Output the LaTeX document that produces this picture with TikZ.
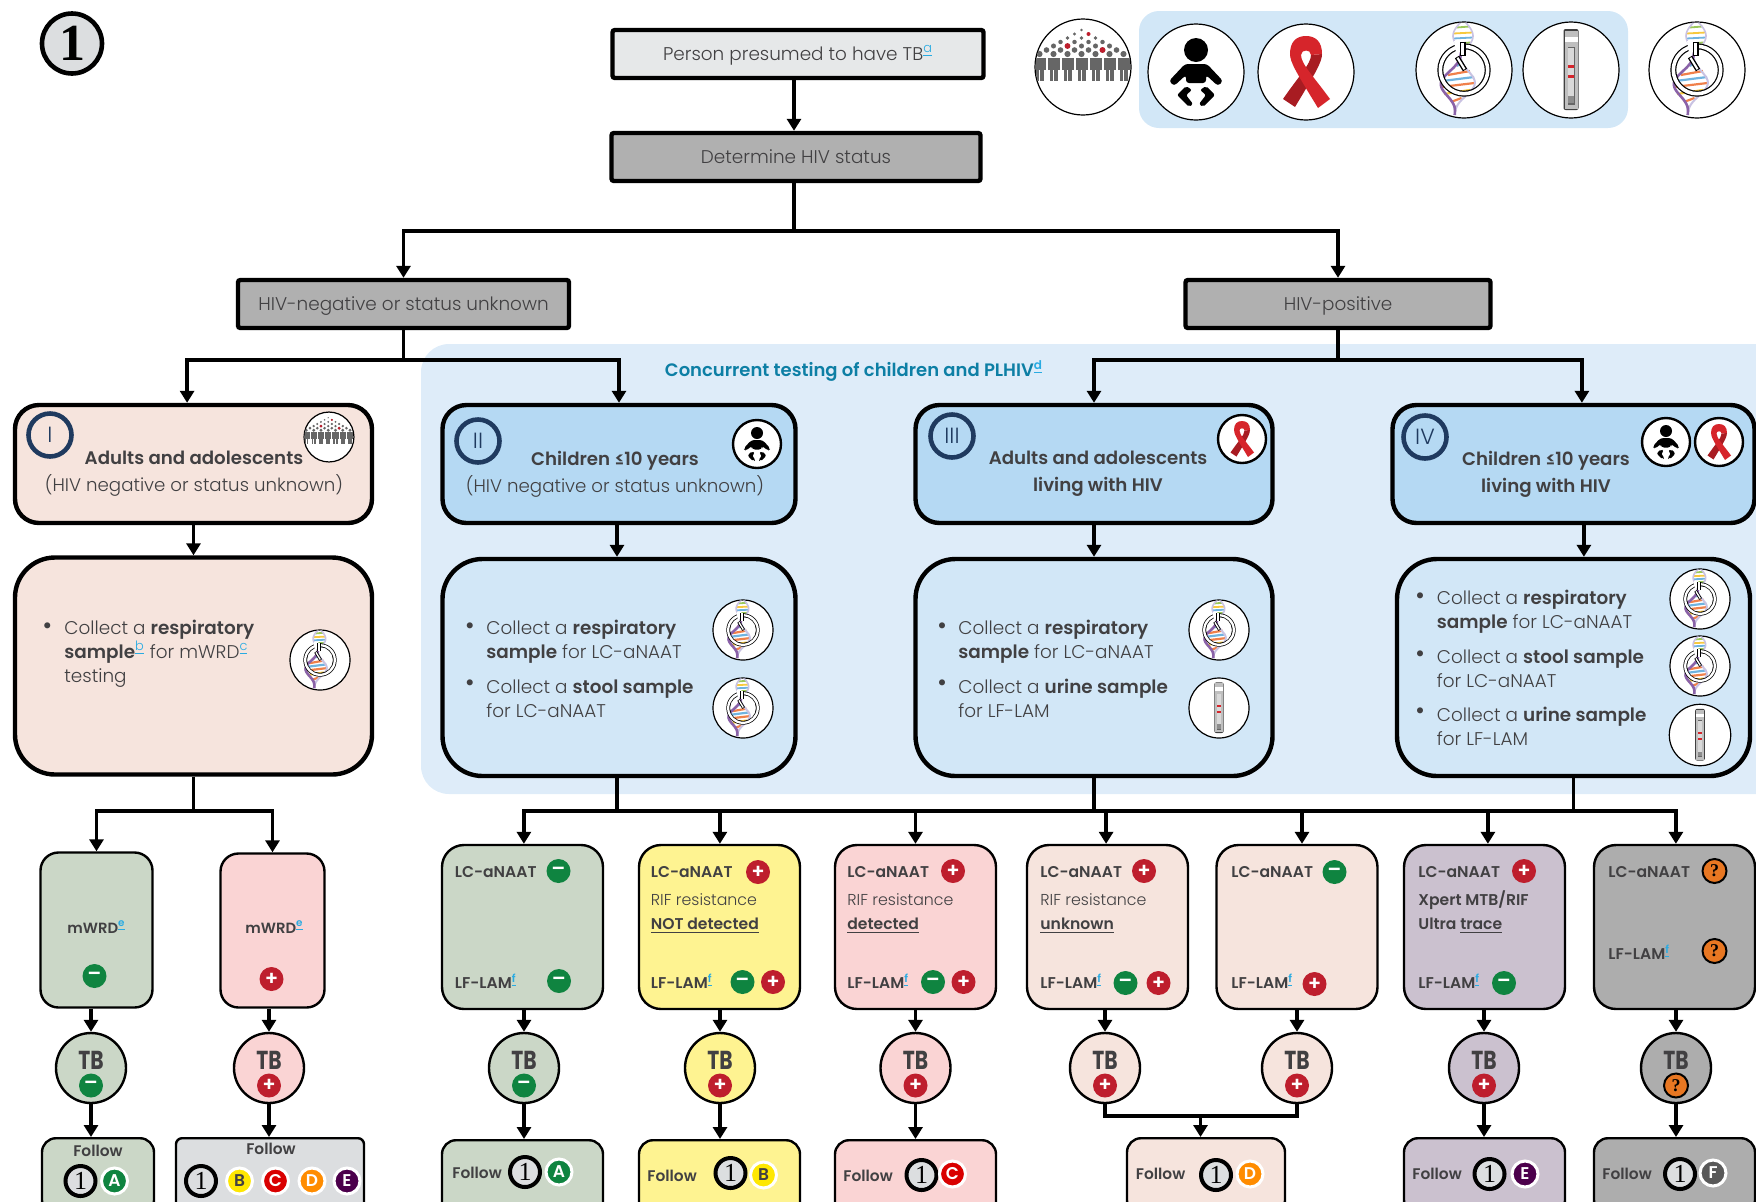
\documentclass[tikz,border=0pt]{standalone}
\usepackage{fontspec}
\setmainfont{Poppins}[UprightFont={* Light},BoldFont={* SemiBold}]
\newfontfamily\numfont{Liberation Serif}
\newfontfamily\tbfont{Poppins}[UprightFont={* Bold}]
\usetikzlibrary{arrows.meta, positioning}

\definecolor{inkgray}{HTML}{414042}
\definecolor{fncyan}{HTML}{29ABE2}
\definecolor{panelblue}{HTML}{DEECF9}
\definecolor{legendblue}{HTML}{D2E7F7}
\definecolor{classblue}{HTML}{B5D9F3}
\definecolor{peach}{HTML}{F6E4DD}
\definecolor{resgreen}{HTML}{CBD7C7}
\definecolor{respink}{HTML}{FAD4D4}
\definecolor{resyellow}{HTML}{FEF391}
\definecolor{respurple}{HTML}{CBC1CF}
\definecolor{resgray}{HTML}{ADADAD}
\definecolor{boxgray}{HTML}{B0B0B0}
\definecolor{softgray}{HTML}{DCDEE0}
\definecolor{okgreen}{HTML}{0F8440}
\definecolor{badred}{HTML}{BE1E2D}
\definecolor{askorange}{HTML}{E87722}
\definecolor{navy}{HTML}{1F3A5F}
\definecolor{ribbonred}{HTML}{D6252B}
\definecolor{ribbondark}{HTML}{A81C22}
\definecolor{concurrentteal}{HTML}{0D7FA5}
\definecolor{helixdark}{HTML}{8A62A8}
\definecolor{helixpale}{HTML}{C9C2E2}
\definecolor{rungyellow}{HTML}{F7C93E}
\definecolor{rungorange}{HTML}{F0804A}
\definecolor{runggreen}{HTML}{9CC85A}
\definecolor{rungblue}{HTML}{6FB3E0}

\newcommand{\fnmark}[1]{\textsuperscript{\textcolor{fncyan}{\underline{#1}}}}

\tikzset{
    iconring/.style={draw=black, line width=.6pt, fill=white},
    pics/crowdicon/.style={code={
        \draw[iconring] (0,0) circle [radius=48];
        \begin{scope}
            \clip (0,0) circle [radius=47.5];
            \foreach \m in {0,...,6}
                \foreach \i in {0,...,\m}
                    \fill[black!60] ({(2*\i-\m)*7-1.5},{-37+4*\m}) circle [radius={1.4+.28*\m}];
            \foreach \i in {-3,...,3} {
                \fill[black!60] ({\i*14-7.5},-9) rectangle ({\i*14+4.5},3);
                \fill[black!60] ({\i*14-5.5},3) rectangle ({\i*14-2},14);
                \fill[black!60] ({\i*14-1},3) rectangle ({\i*14+2.5},14);
            }
            \fill[badred] (-15.5,-21) circle [radius=2.9];
            \fill[badred] (5.5,-33) circle [radius=2];
            \fill[badred] (19.5,-17) circle [radius=2.9];
        \end{scope}
    }},
    pics/babyicon/.style={code={
        \draw[iconring] (0,0) circle [radius=48];
        \fill[black] (0,-22) ellipse [x radius=12, y radius=12];
        \fill[black, rounded corners=1.5pt] (-11,-8) -- (11,-8) -- (27,9) -- (22,14) -- (10,3) -- (10,11) -- (-10,11) -- (-10,3) -- (-22,14) -- (-27,9) -- cycle;
        \fill[black, rounded corners=1pt] (-10,14) -- (-19,23) -- (-7,35) -- (-3,32) -- (-10,23) -- (-4,18) -- cycle;
        \fill[black, rounded corners=1pt] (10,14) -- (19,23) -- (7,35) -- (3,32) -- (10,23) -- (4,18) -- cycle;
    }},
    pics/ribbonicon/.style={code={
        \draw[iconring] (0,0) circle [radius=48];
        \fill[ribbondark] (16,-18) .. controls (16,-10) and (10,0) .. (-11,35) -- (-23,27) .. controls (-8,5) and (5,-8) .. (5,-17) -- cycle;
        \fill[ribbonred] (-16,-18) .. controls (-16,-10) and (-10,0) .. (12,36) -- (24,27) .. controls (8,5) and (-5,-8) .. (-5,-17) .. controls (-5,-23) and (5,-23) .. (5,-17) -- (16,-18) .. controls (16,-30) and (10,-36) .. (0,-36) .. controls (-10,-36) and (-16,-30) .. (-16,-18) -- cycle;
    }},
    pics/dnaicon/.style={code={
        \draw[iconring] (0,0) circle [radius=48];
        \begin{scope}
            \clip (0,0) circle [radius=47.5];
            % upper, narrow turn of the helix
            \foreach \r/\c in {-43/runggreen,-37/rungyellow,-32/rungblue,-27/runggreen,-22/rungorange}
                \draw[line width=.9pt, \c] ({-1+10*sin((\r+18)*5.6)},{\r+.5}) -- ({-1-10*sin((\r+18)*5.6)},{\r-.5});
            \draw[line width=.8pt, helixpale] plot[domain=-48:-18, samples=20, smooth] ({-1-10*sin((\x+18)*5.6)},\x);
            \draw[line width=.8pt, helixpale] plot[domain=-48:-18, samples=20, smooth] ({-1+10*sin((\x+18)*5.6)},\x);
            % lower, wide turn
            \foreach \r/\c in {-12/runggreen,-6/rungblue,3/rungorange,9/rungblue,15/rungorange,22/rungyellow,30/rungorange,38/runggreen}
                \draw[line width=1.1pt, \c] ({-3-(\r+18)*.1-17*pow(sin((\r+18)*2.857),3)},{\r+2}) -- ({-3-(\r+18)*.1+17*pow(sin((\r+18)*2.857),3)},{\r-2});
            \draw[line width=1pt, helixpale] plot[domain=-18:45, samples=30, smooth] ({-3-(\x+18)*.1+17*pow(sin((\x+18)*2.857),3)},\x);
            \draw[line width=1.3pt, helixdark] plot[domain=-18:45, samples=30, smooth] ({-3-(\x+18)*.1-17*pow(sin((\x+18)*2.857),3)},\x);
        \end{scope}
        \fill[black, even odd rule] (0,0) circle [radius=26.7] (0,0) circle [radius=20.7];
        \fill[white, even odd rule] (0,0) circle [radius=25.5] (0,0) circle [radius=21.9];
        \fill[white] (-10,-29) -- (-3,-29) -- (-3,-18) -- (-8,-17) -- cycle;
        \fill[black] (-4.5,-28) rectangle (1.5,-14);
        \fill[white] (-3.3,-26.8) rectangle (.3,-15.2);
        \fill[black] (-9.1,-11.7) -- (-4.9,-14.3) -- (3.1,-1.3) -- (-1.1,1.3) -- cycle;
        \fill[white] (-7.4,-11.6) -- (-5.6,-12.8) -- (1.4,-1.4) -- (-.4,-.2) -- cycle;
    }},
    pics/stripicon/.style={code={
        \draw[iconring] (0,0) circle [radius=48];
        \fill[black!75, rounded corners=1pt] (-7.5,-41) rectangle (7.5,40);
        \fill[black!25] (-6.5,-39.5) rectangle (6.5,38.5);
        \fill[white] (-6.5,-33) rectangle (6.5,-28);
        \fill[black!60] (-3.5,-23) rectangle (3.5,35);
        \fill[black!15] (-2.6,-22) rectangle (2.6,33);
        \fill[ribbonred] (-3,-5) rectangle (3,-2);
        \fill[ribbonred] (-3,5) rectangle (3,8);
        \fill[black!45] (-2.6,26) rectangle (2.6,33);
    }},
    topbox/.style={rectangle, draw=black, line width=2.2pt, rounded corners=1.2pt, text=inkgray, font=\fontsize{9.2}{11}\selectfont, inner sep=0pt, minimum height=24pt, text height=6.3pt, text depth=0pt},
    classbox/.style={rectangle, draw=black, line width=2.2pt, rounded corners=12pt, minimum height=59pt, inner sep=0pt},
    collectbox/.style={rectangle, draw=black, line width=2.2pt, rounded corners=20pt, minimum height=108.5pt, inner sep=0pt},
    resbox/.style={rectangle, draw=black, line width=1.2pt, rounded corners=11pt, inner sep=0pt, minimum width=80.5pt, minimum height=82pt},
    tbnode/.style={circle, draw=black, line width=1.2pt, minimum size=35pt, inner sep=0pt},
    followbox/.style={rectangle, draw=black, line width=1.2pt, rounded corners=7pt, inner sep=0pt, minimum width=80.5pt, minimum height=38pt, anchor=north},
    classtext/.style={text=inkgray, align=center, inner sep=0pt, font=\fontsize{9.1}{13.5}\selectfont},
    listtext/.style={text=inkgray, align=left, anchor=west, inner sep=0pt, font=\fontsize{9.2}{12}\selectfont},
    bulletdot/.style={text=inkgray, inner sep=0pt, font=\fontsize{13}{13}\selectfont},
    testlabel/.style={text=inkgray, anchor=base west, inner sep=0pt, font=\bfseries\fontsize{7.8}{9}\selectfont},
    riflabel/.style={text=inkgray, anchor=base west, inner sep=0pt, font=\fontsize{7.9}{9}\selectfont},
    tbtext/.style={text=inkgray, inner sep=0pt, font=\tbfont\fontsize{13}{13}\selectfont},
    followtext/.style={text=inkgray, anchor=base west, inner sep=0pt, font=\bfseries\fontsize{7.7}{9}\selectfont},
    followtop/.style={text=inkgray, inner sep=0pt, font=\bfseries\fontsize{7.7}{9}\selectfont},
    romanring/.style={circle, draw=navy, line width=2.3pt, minimum size=21.5pt, inner sep=0pt, text=navy, font=\fontsize{11}{11}\selectfont},
    stepone/.style={circle, draw=black, fill=softgray, line width=2pt, minimum size=15pt, inner sep=0pt, font=\numfont\fontsize{13}{13}\selectfont},
    marknode/.style={circle, minimum size=12pt, inner sep=0pt, text=white, font=\bfseries\fontsize{10}{10}\selectfont},
    plusmark/.style={marknode, fill=badred, node contents={+}},
    minusmark/.style={marknode, fill=okgreen, node contents={--}},
    askmark/.style={marknode, fill=askorange, draw=black, line width=1pt, text=black, font=\numfont\bfseries\fontsize{9}{9}\selectfont, node contents={?}},
    letterdot/.style={circle, draw=white, line width=1.5pt, minimum size=13pt, inner sep=0pt, text=white, font=\bfseries\fontsize{8.5}{8.5}\selectfont},
    flow/.style={-{Triangle[width=7pt,length=6pt]}, line width=1.7pt},
    stem/.style={line width=1.7pt}
}

\begin{document}
\begin{tikzpicture}[x=.5pt, y=-.5pt]
\useasboundingbox (0,0) rectangle (1756,1201);

% panels behind everything
\fill[panelblue, rounded corners=14pt] (421,344) rectangle (1790,794);
\fill[legendblue, rounded corners=10pt] (1139,11) rectangle (1628,128);

% legend
\pic at (1083,67) {crowdicon};
\pic at (1196,72) {babyicon};
\pic at (1306,72) {ribbonicon};
\pic at (1464,70) {dnaicon};
\pic at (1571,70) {stripicon};
\pic at (1697,70) {dnaicon};

\node[circle, draw=black, fill=softgray, line width=2.3pt, minimum size=30pt, inner sep=0pt, font=\numfont\bfseries\fontsize{26}{26}\selectfont] (panelone) at (72,43.5) {1};

% top of the flow
\node[topbox, fill=softgray!70, minimum width=185.5pt] (person) at (798,54) {Person presumed to have TB\fnmark{a}};
\node[topbox, fill=boxgray, minimum width=184.5pt] (status) at (796,157) {Determine HIV status};
\node[topbox, fill=boxgray, minimum width=165.5pt] (hivneg) at (403.5,304) {HIV-negative or status unknown};
\node[topbox, fill=boxgray, minimum width=152.5pt] (hivpos) at (1338,304) {HIV-positive};

\node[text=concurrentteal, inner sep=0pt, font=\bfseries\fontsize{9}{11}\selectfont] (concurrent) at (854,371) {Concurrent testing of children and PLHIV\fnmark{d}};

% four groups
\node[classbox, fill=peach, minimum width=178.5pt] (classI) at (193.5,464) {};
\node[classbox, fill=classblue, minimum width=176.5pt] (classII) at (619,464) {};
\node[classbox, fill=classblue, minimum width=178.5pt] (classIII) at (1094,464) {};
\node[classbox, fill=classblue, minimum width=181pt] (classIV) at (1573.5,464) {};

\node[classtext] (textI) at (194,474) {\textbf{Adults and adolescents}\\(HIV negative or status unknown)};
\node[classtext] (textII) at (615,474) {\textbf{Children ≤10 years}\\(HIV negative or status unknown)};
\node[classtext] (textIII) at (1098,474) {\textbf{Adults and adolescents}\\\textbf{living with HIV}};
\node[classtext] (textIV) at (1546,474) {\textbf{Children ≤10 years}\\\textbf{living with HIV}};

\node[romanring] (romanI) at (50,435) {I};
\node[romanring] (romanII) at (478,441) {II};
\node[romanring] (romanIII) at (952,436) {III};
\node[romanring] (romanIV) at (1425,437) {IV};

\pic[scale=.52] at (329,437) {crowdicon};
\pic[scale=.5, iconring/.append style={line width=1.2pt}] at (757,444) {babyicon};
\pic[scale=.5, iconring/.append style={line width=1.2pt}] at (1242,439) {ribbonicon};
\pic[scale=.5, iconring/.append style={line width=1.2pt}] at (1666,442) {babyicon};
\pic[scale=.5, iconring/.append style={line width=1.2pt}] at (1719,442) {ribbonicon};

% sample boxes
\node[collectbox, fill=peach, minimum width=178.5pt] (collectI) at (193.5,666) {};
\node[collectbox, fill=legendblue, minimum width=176.5pt] (collectII) at (619,667.5) {};
\node[collectbox, fill=legendblue, minimum width=178.5pt] (collectIII) at (1094,667.5) {};
\node[collectbox, fill=legendblue, minimum width=176.5pt] (collectIV) at (1573.5,667.5) {};

\node[bulletdot] (dotI) at (47.5,629) {\textbullet};
\node[listtext] (sampleI) at (64,653.5) {Collect a \textbf{respiratory}\\\textbf{sample}\fnmark{b} for mWRD\fnmark{c}\\testing};
\node[bulletdot] (dotIIa) at (470,629) {\textbullet};
\node[listtext] (sampleIIa) at (486,641.5) {Collect a \textbf{respiratory}\\\textbf{sample} for LC-aNAAT};
\node[bulletdot] (dotIIb) at (470,686) {\textbullet};
\node[listtext] (sampleIIb) at (486,698.5) {Collect a \textbf{stool sample}\\for LC-aNAAT};
\node[bulletdot] (dotIIIa) at (942,629) {\textbullet};
\node[listtext] (sampleIIIa) at (958,641.5) {Collect a \textbf{respiratory}\\\textbf{sample} for LC-aNAAT};
\node[bulletdot] (dotIIIb) at (942,686) {\textbullet};
\node[listtext] (sampleIIIb) at (958,698.5) {Collect a \textbf{urine sample}\\for LF-LAM};
\node[bulletdot] (dotIVa) at (1420,599) {\textbullet};
\node[listtext] (sampleIVa) at (1436.5,611.5) {Collect a \textbf{respiratory}\\\textbf{sample} for LC-aNAAT};
\node[bulletdot] (dotIVb) at (1420,657) {\textbullet};
\node[listtext] (sampleIVb) at (1436.5,669) {Collect a \textbf{stool sample}\\for LC-aNAAT};
\node[bulletdot] (dotIVc) at (1420,714) {\textbullet};
\node[listtext] (sampleIVc) at (1436.5,726.5) {Collect a \textbf{urine sample}\\for LF-LAM};

\pic[scale=.625] at (320,660) {dnaicon};
\pic[scale=.625] at (743,630) {dnaicon};
\pic[scale=.625] at (743,708) {dnaicon};
\pic[scale=.625] at (1219,630) {dnaicon};
\pic[scale=.625] at (1219,708) {stripicon};
\pic[scale=.625] at (1700,599) {dnaicon};
\pic[scale=.625] at (1700,666) {dnaicon};
\pic[scale=.64] at (1700,735) {stripicon};

% result boxes
\node[resbox, fill=resgreen, minimum width=56pt, minimum height=77.5pt, rounded corners=9pt] (mneg) at (96.5,930) {};
\node[resbox, fill=respink, minimum width=52pt, minimum height=77pt, rounded corners=9pt] (mpos) at (272.5,930.5) {};
\foreach \n/\x/\c in {lneg/522.5/resgreen, lyel/719.5/resyellow, lred/915.5/respink, lunk/1107.5/peach, ltip/1297/peach, lpur/1484.5/respurple, lgry/1674.5/resgray}
    \node[resbox, fill=\c] (\n) at (\x,927) {};

\node[testlabel, font=\bfseries\fontsize{7.4}{9}\selectfont] (mwrdneg) at (67,933) {mWRD\fnmark{e}};
\node[testlabel, font=\bfseries\fontsize{7.4}{9}\selectfont] (mwrdpos) at (245,933) {mWRD\fnmark{e}};
\foreach \n/\x in {lneg/454.5, lyel/650.5, lred/847, lunk/1040, ltip/1231, lpur/1418, lgry/1608}
    \node[testlabel] (lc\n) at (\x,877) {LC-aNAAT};
\foreach \n/\x/\y in {lneg/454.5/988, lyel/650.5/988, lred/847/988, lunk/1040/988, ltip/1231/988, lpur/1418/988, lgry/1608/959}
    \node[testlabel] (lf\n) at (\x,\y) {LF-LAM\fnmark{f}};

\node[riflabel] (rifyel) at (650.5,905) {RIF resistance};
\node[testlabel] (notyel) at (650.5,929) {\underline{NOT detected}};
\node[riflabel] (rifred) at (847,905) {RIF resistance};
\node[testlabel] (notred) at (847,929) {\underline{detected}};
\node[riflabel] (rifunk) at (1040,905) {RIF resistance};
\node[testlabel] (notunk) at (1040,929) {\underline{unknown}};
\node[testlabel] (xpert) at (1418,905) {Xpert MTB/RIF};
\node[testlabel] (ultra) at (1418,929) {Ultra \underline{trace}};

\foreach \n/\k/\x/\y in {ma/minusmark/94.5/976, mb/plusmark/271.5/979, ca/minusmark/558.5/871, cb/minusmark/559/981,
    cc/plusmark/758/872, cd/minusmark/742.5/982, ce/plusmark/773/982,
    cf/plusmark/953/871, cg/minusmark/933/982, ch/plusmark/963.5/982,
    ci/plusmark/1144/871, cj/minusmark/1125.5/983, ck/plusmark/1158.5/983,
    cl/minusmark/1334.5/872, cm/plusmark/1314.5/984,
    cn/plusmark/1524/871, co/minusmark/1504/983,
    cp/askmark/1714.5/871, cq/askmark/1714.5/951}
    \node (\n) at (\x,\y) [\k];

% TB result circles
\foreach \n/\x/\c/\k in {mneg/91/resgreen/minusmark, mpos/269/respink/plusmark, lneg/524/resgreen/minusmark, lyel/720/resyellow/plusmark, lred/915.5/respink/plusmark, lunk/1105/peach/plusmark, ltip/1297/peach/plusmark, lpur/1484/respurple/plusmark, lgry/1676/resgray/askmark} {
    \node[tbnode, fill=\c] (tb\n) at (\x,1068) {};
    \node[tbtext] (tbt\n) at (\x,1060) {\scalebox{.78}[1]{TB}};
    \node (tbm\n) at (\x,1085.5) [\k];
}

% follow boxes, running off the page
\node[followbox, fill=resgreen, minimum width=56pt] (fmneg) at (98,1137) {};
\node[followbox, fill=softgray, minimum width=94pt, rounded corners=3pt] (fmpos) at (270,1137) {};
\node[followbox, fill=resgreen] (flneg) at (522.5,1139) {};
\node[followbox, fill=resyellow] (flyel) at (719.5,1139) {};
\node[followbox, fill=respink] (flred) at (915.5,1139) {};
\node[followbox, fill=peach, minimum width=79pt] (flunk) at (1206,1137) {};
\node[followbox, fill=respurple] (flpur) at (1484.5,1137) {};
\node[followbox, fill=resgray] (flgry) at (1674.5,1137) {};

\node[followtop] (fta) at (98,1151) {Follow};
\node[followtop] (ftb) at (271,1149) {Follow};
\node[followtext] (ftc) at (452,1178) {Follow};
\node[followtext] (ftd) at (647,1181) {Follow};
\node[followtext] (fte) at (843,1181) {Follow};
\node[followtext] (ftf) at (1135.5,1179) {Follow};
\node[followtext] (ftg) at (1412,1179) {Follow};
\node[followtext] (fth) at (1602,1179) {Follow};

\foreach \n/\x/\y in {a/80.5/1181, b/201/1181, c/525/1172, d/730.5/1173, e/921.5/1175, f/1216/1175, g/1489.5/1174, h/1680/1174}
    \node[stepone] (one\n) at (\x,\y) {1};

\node[letterdot, fill=okgreen] (lettera) at (114.5,1181) {A};
\node[letterdot, fill=yellow!90!orange, text=inkgray] (letterb) at (239.5,1181) {B};
\node[letterdot, fill=red!85!black] (letterc) at (275.5,1181) {C};
\node[letterdot, fill=orange!90!yellow] (letterd) at (312,1181) {D};
\node[letterdot, fill=violet!60!black] (lettere) at (347,1181) {E};
\node[letterdot, fill=okgreen] (letterf) at (559,1172) {A};
\node[letterdot, fill=yellow!90!orange, text=inkgray] (letterg) at (763.5,1175) {B};
\node[letterdot, fill=red!85!black] (letterh) at (952.5,1174) {C};
\node[letterdot, fill=orange!90!yellow] (letteri) at (1250,1174) {D};
\node[letterdot, fill=violet!60!black] (letterj) at (1525,1174) {E};
\node[letterdot, fill=black!65] (letterk) at (1713,1173) {F};

% connectors
\coordinate (mainsplit) at (794,231);
\coordinate (negsplit) at (403.5,360);
\coordinate (possplit) at (1338,360);
\coordinate (leftbus) at (193.5,811);
\coordinate (mainbus) at (1094,811);
\coordinate (joinbus) at (1200.5,1116);

\draw[flow] ([xshift=-2pt]person.south) -- ([xshift=-2pt]person.south |- status.north);
\draw[stem] (mainsplit |- status.south) -- (mainsplit);
\draw[flow] (mainsplit) -| (hivneg.north);
\draw[flow] (mainsplit) -| (hivpos.north);
\draw[stem] (hivneg.south) -- (negsplit);
\draw[stem] (hivpos.south) -- (possplit);
\draw[flow] (negsplit) -| ([xshift=-3.2pt]classI.north);
\draw[flow] (negsplit) -| (classII.north);
\draw[flow] (possplit) -| (classIII.north);
\draw[flow] (possplit) -| ([xshift=4.2pt]classIV.north);

\draw[flow] (classI) -- (collectI);
\draw[flow] ([xshift=-1pt]classII.south) -- ([xshift=-1pt]collectII.north);
\draw[flow] (classIII) -- (collectIII);
\draw[flow] ([xshift=5.2pt]classIV.south) -- ([xshift=5.2pt]collectIV.north);

\draw[stem] (collectI.south) -- (collectI.south |- leftbus);
\draw[stem] ([xshift=-1pt]collectII.south) -- ([xshift=-1pt]collectII.south |- mainbus);
\draw[stem] (collectIII.south) -- (collectIII.south |- mainbus);
\draw[stem] (collectIV.south) -- (collectIV.south |- mainbus);
\draw[flow] (leftbus) -| (mneg.north);
\draw[flow] (leftbus) -| (mpos.north);
\foreach \n/\s in {lneg/.7, lyel/.2, lred/0, lunk/-.7, ltip/2.5, lpur/1.7, lgry/.7}
    \draw[flow] (mainbus) -| ([xshift=\s pt]\n.north);

\foreach \n in {mneg, mpos, lneg, lyel, lred, lunk, ltip, lpur, lgry}
    \draw[flow] (tb\n |- \n.south) -- (tb\n.north);

\foreach \n/\f in {mneg/fmneg, mpos/fmpos, lneg/flneg, lyel/flyel, lred/flred, lpur/flpur, lgry/flgry}
    \draw[flow] (tb\n.south) -- (tb\n.south |- \f.north);

\draw[stem] (tblunk.south) |- (joinbus) -| (tbltip.south);
\draw[flow] (joinbus) -- (joinbus |- flunk.north);

\end{tikzpicture}
\end{document}
